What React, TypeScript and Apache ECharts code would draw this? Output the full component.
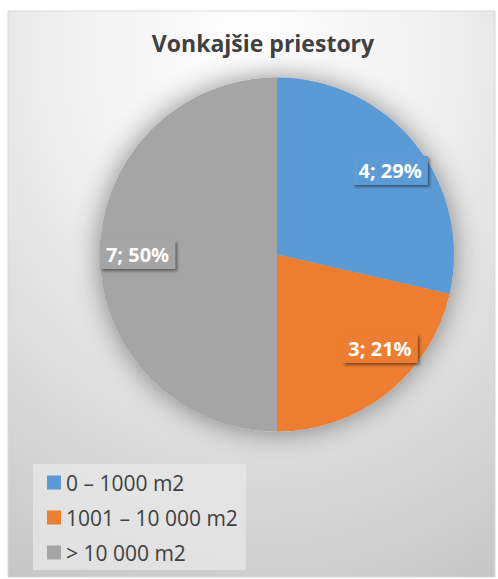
import React, { useEffect, useRef } from "react";
import * as echarts from "echarts";

const categories = ["0 – 1000 m2", "1001 – 10 000 m2", "> 10 000 m2"];
const values = [4, 3, 7];
const colors = ["#5B9BD5", "#ED7D31", "#A5A5A5"];
const titleText = "Vonkajšie priestory";

export default function App() {
  const ref = useRef<HTMLDivElement>(null);
  useEffect(() => {
    if (!ref.current) return;
    const chart = echarts.init(ref.current, null, { renderer: "svg" });
    const total = values.reduce((a, b) => a + b, 0);
    const data = categories.map((c, i) => ({
      name: c,
      value: values[i],
      itemStyle: { color: colors[i] },
    }));
    const font = "'Open Sans', sans-serif";
    chart.setOption({
      animation: false,
      backgroundColor: "#ffffff",
      graphic: [
        {
          type: "rect",
          shape: { x: 8, y: 11, width: 487, height: 566 },
          z: -10,
          style: {
            fill: new echarts.graphic.RadialGradient(0.5, 0.08, 1.05, [
              { offset: 0, color: "#ffffff" },
              { offset: 0.35, color: "#f1f1f1" },
              { offset: 1, color: "#c6c6c6" },
            ]),
            stroke: "#d9d9d9",
            lineWidth: 1,
          },
        },
      ],
      title: {
        text: titleText,
        left: 258,
        textAlign: "center",
        top: 26,
        textStyle: {
          fontFamily: font,
          fontWeight: "bold",
          fontSize: 23,
          color: "#404040",
        },
      },
      legend: {
        orient: "vertical",
        left: 33,
        top: 464,
        padding: [8, 8, 7, 14],
        backgroundColor: "rgba(232,232,232,0.75)",
        itemWidth: 14,
        itemHeight: 14,
        itemGap: 14,
        icon: "rect",
        data: categories,
        selectedMode: false,
        textStyle: { fontFamily: font, fontSize: 21, color: "#404040" },
      },
      series: [
        {
          type: "pie",
          center: [277, 254.5],
          radius: [0, 177],
          startAngle: 90,
          clockwise: true,
          data,
          label: { show: false },
          labelLine: { show: false },
          itemStyle: { borderWidth: 0 },
          emphasis: { disabled: true },
          z: 3,
        },
        {
          type: "pie",
          center: [277, 254.5],
          radius: [0, 177],
          silent: true,
          data: [{ name: "shadow", value: 1 }],
          itemStyle: {
            color: "#bbbbbb",
            shadowBlur: 28,
            shadowColor: "rgba(0,0,0,0.45)",
            shadowOffsetX: 0,
            shadowOffsetY: 0,
          },
          label: { show: false },
          labelLine: { show: false },
          z: 1,
        },
        {
          type: "pie",
          center: [277, 254.5],
          radius: [96, 177],
          startAngle: 90,
          clockwise: true,
          silent: true,
          data: categories.map((c, i) => ({
            name: c,
            value: values[i],
            itemStyle: { color: "rgba(0,0,0,0)" },
            label: { backgroundColor: colors[i] },
          })),
          labelLine: { show: false },
          labelLayout: (p: any) =>
            p.dataIndex === 1 ? { dx: 16, dy: -15 } : p.dataIndex === 0 ? { dx: 4, dy: 3 } : {},
          label: {
            show: true,
            position: "inside",
            formatter: (p: any) =>
              `${p.value}; ${Math.round((p.value / total) * 100)}%`,
            color: "#ffffff",
            fontFamily: font,
            fontWeight: "bold",
            fontSize: 20,
            padding: [5, 6, 4, 6],
            shadowColor: "rgba(0,0,0,0.45)",
            shadowBlur: 3,
            shadowOffsetX: 2,
            shadowOffsetY: 2,
          },
          z: 5,
        },
      ],
    });
    return () => chart.dispose();
  }, []);
  return (
    <div
      ref={ref}
      style={{ position: "fixed", left: 0, top: 0, width: 498, height: 579 }}
    />
  );
}
